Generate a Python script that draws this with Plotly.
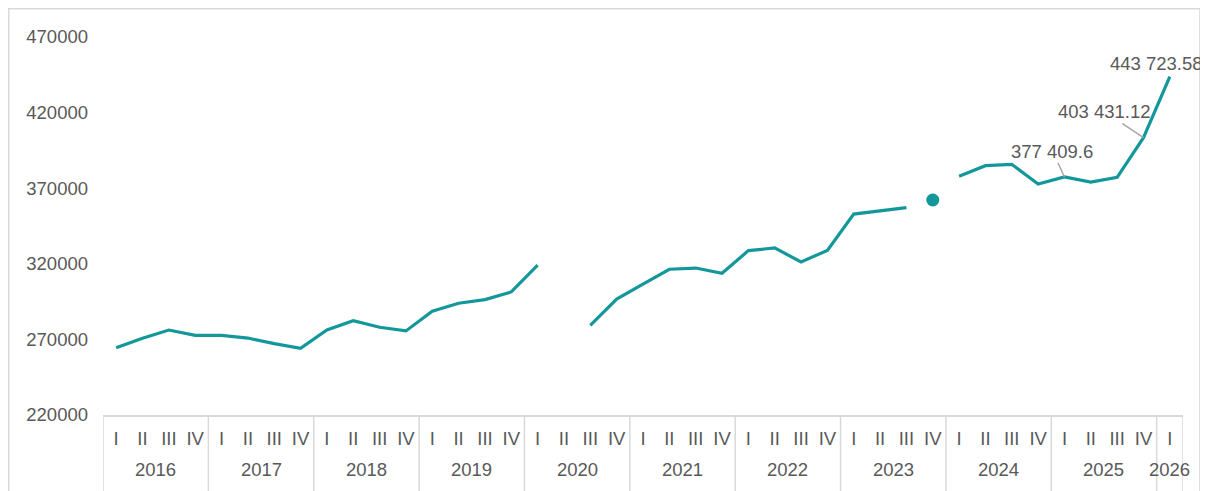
import plotly.graph_objects as go

# quarterly series, 2016 Q1 .. 2026 Q1 (None = no data)
year_labels = ["2016", "2017", "2018", "2019", "2020", "2021",
               "2022", "2023", "2024", "2025", "2026"]
quarters_per_year = [4, 4, 4, 4, 4, 4, 4, 4, 4, 4, 1]
roman = ["I", "II", "III", "IV"]

values = [
    264500, 270700, 276200, 272700,        # 2016
    272700, 270900, 267200, 264100,        # 2017
    276200, 282400, 278000, 275600,        # 2018
    288600, 293900, 296300, 301400,        # 2019
    319200, None, 279300, 296700,          # 2020
    306600, 316400, 317200, 313700,        # 2021
    328700, 330500, 321200, 328900,        # 2022
    352900, 355100, 357100, 362200,        # 2023
    377900, 384900, 385800, 372800,        # 2024
    377409.6, 374100, 377200, 403431.12,   # 2025
    443723.58,                             # 2026
]

# point drawn on its own (not joined to neighbours)
isolated = ["IV 2023"]
# points carrying a value label
labelled = ["I 2025", "IV 2025", "I 2026"]

LINE = "#13979A"
TEXT = "#595959"
GRID = "#D9D9D9"
FONT = "Arial, Liberation Sans, sans-serif"
FS = 18.5

categories = []
tick_text = []
for yr, n in zip(year_labels, quarters_per_year):
    for q in roman[:n]:
        categories.append(f"{q} {yr}")
        tick_text.append(q)

line_y = [None if c in isolated else v for c, v in zip(categories, values)]

fig = go.Figure()
fig.add_trace(go.Scatter(
    x=categories, y=line_y, mode="lines",
    line=dict(color=LINE, width=3.2), connectgaps=False,
    hoverinfo="skip", showlegend=False,
))
fig.add_trace(go.Scatter(
    x=isolated,
    y=[values[categories.index(c)] for c in isolated],
    mode="markers", marker=dict(color=LINE, size=13),
    hoverinfo="skip", showlegend=False,
))

# year dividers and year labels under the quarter labels
shapes = []
annotations = []
start = 0
for yr, n in zip(year_labels, quarters_per_year):
    shapes.append(dict(type="line", xref="x", yref="paper",
                       x0=start - 0.5, x1=start - 0.5, y0=0, y1=-0.3,
                       line=dict(color=GRID, width=1.5)))
    annotations.append(dict(x=start + (n - 1) / 2, y=-0.1455, xref="x", yref="paper",
                            text=yr, showarrow=False, yanchor="middle",
                            font=dict(size=FS, color=TEXT, family=FONT)))
    start += n
shapes.append(dict(type="line", xref="x", yref="paper",
                   x0=start - 0.5, x1=start - 0.5, y0=0, y1=-0.3,
                   line=dict(color=GRID, width=1.5)))

# outer chart border
shapes.append(dict(type="rect", xref="paper", yref="paper",
                   x0=-0.0873, x1=1.0157, y0=-0.3, y1=1.0749,
                   line=dict(color=GRID, width=1.5)))

# data labels
label_offsets = {"I 2025": (-12, -26, True), "IV 2025": (-39, -26, True),
                 "I 2026": (-13, 13, False)}
for c in labelled:
    v = values[categories.index(c)]
    txt = f"{v:,.2f}".rstrip("0").rstrip(".").replace(",", " ")
    dx, dy, arrow = label_offsets[c]
    if arrow:
        annotations.append(dict(x=c, y=v, xref="x", yref="y", text=txt,
                                showarrow=True, arrowhead=0, arrowwidth=1.5,
                                arrowcolor="#A6A6A6", ax=dx, ay=dy,
                                font=dict(size=FS, color=TEXT, family=FONT)))
    else:
        annotations.append(dict(x=c, y=v, xref="x", yref="y", text=txt,
                                showarrow=False, xshift=dx, yshift=dy,
                                font=dict(size=FS, color=TEXT, family=FONT)))

fig.update_layout(
    width=1208, height=491,
    template="none",
    paper_bgcolor="white", plot_bgcolor="white",
    margin=dict(l=95, r=33, t=29, b=84),
    font=dict(family=FONT, size=FS, color=TEXT),
    shapes=shapes, annotations=annotations,
    showlegend=False,
)
fig.update_xaxes(
    type="category", categoryorder="array", categoryarray=categories,
    range=[-0.5, len(categories) - 0.5],
    tickmode="array", tickvals=categories, ticktext=tick_text,
    ticks="", ticklabelstandoff=6,
    showgrid=False, zeroline=False,
    showline=True, linecolor=GRID, linewidth=1.5,
    tickfont=dict(size=FS, color=TEXT, family=FONT),
)
fig.update_yaxes(
    range=[220000, 470000], dtick=50000, tick0=220000, tickformat="d",
    ticks="", ticklabelstandoff=14,
    showgrid=False, zeroline=False, showline=False,
    tickfont=dict(size=FS, color=TEXT, family=FONT),
)

fig.write_html("out.html")
